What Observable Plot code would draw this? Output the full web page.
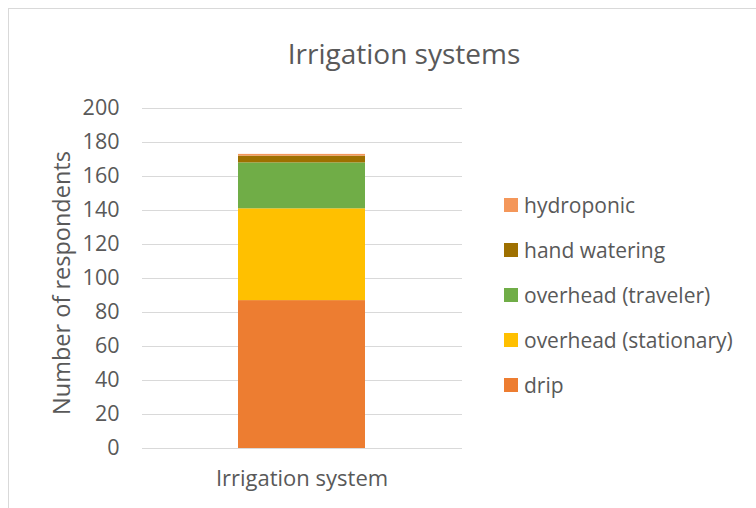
<!DOCTYPE html>
<html><head><meta charset="utf-8">
<script src="https://cdn.jsdelivr.net/npm/d3@7"></script>
<script src="https://cdn.jsdelivr.net/npm/@observablehq/plot@0.6"></script>
<style>
html,body{margin:0;padding:0;background:#fff;}
#wrap{position:relative;width:756px;height:508px;overflow:hidden;font-family:"Open Sans",sans-serif;}
#frame{position:absolute;left:8px;top:8px;width:900px;height:700px;border:1px solid #d9d9d9;box-sizing:border-box;pointer-events:none;}
#title{position:absolute;left:404px;top:53px;transform:translate(-50%,-50%);font-size:28px;color:#595959;white-space:nowrap;}
#ytitle{position:absolute;left:61px;top:283px;transform:translate(-50%,-50%) rotate(-90deg);font-size:23.5px;color:#595959;white-space:nowrap;}
#legend{position:absolute;left:504px;top:182.5px;font-size:21px;color:#595959;}
.li{display:flex;align-items:center;height:45px;}
.sw{width:14px;height:14px;margin-right:6px;}
#chart{position:absolute;left:0;top:0;}
</style></head>
<body><div id="wrap"><div id="chart"></div><div id="title"></div><div id="ytitle"></div><div id="legend"></div><div id="frame"></div></div>
<script>
const category = "Irrigation system";
const series = ["drip","overhead (stationary)","overhead (traveler)","hand watering","hydroponic"];
const values = [87, 54, 27, 4, 1];
const colors = ["#ed7d31","#ffc000","#70ad47","#9e7000","#f4975a"];
const yTicks = [0,20,40,60,80,100,120,140,160,180,200];

const data = series.map((s,i)=>({category, series:s, value:values[i]}));

const plot = Plot.plot({
  width: 756, height: 508,
  marginLeft: 142, marginRight: 294, marginTop: 108, marginBottom: 60,
  style:{fontFamily:"'Open Sans', sans-serif", fontSize:"21px", color:"#595959", background:"transparent", overflow:"visible"},
  x:{domain:[category], padding:0.43, label:null},
  y:{domain:[0,200], label:null},
  color:{domain:series, range:colors},
  marks:[
    Plot.gridY(yTicks,{stroke:"#d9d9d9", strokeOpacity:1, strokeWidth:1}),
    Plot.barY(data,{x:"category", y:"value", fill:"series", order:series}),
    Plot.axisY({ticks:yTicks, tickSize:0, tickPadding:23, fontSize:21.5, fill:"#595959", label:null}),
    Plot.axisX({tickSize:0, tickPadding:22, fontSize:22, fill:"#595959", label:null})
  ]
});
document.getElementById("chart").appendChild(plot);
document.getElementById("title").textContent = "Irrigation systems";
document.getElementById("ytitle").textContent = "Number of respondents";
const lg = document.getElementById("legend");
for (let i = series.length-1; i>=0; i--) {
  const d = document.createElement("div"); d.className="li";
  const sw = document.createElement("div"); sw.className="sw"; sw.style.background=colors[i];
  const t = document.createElement("span"); t.textContent = series[i];
  d.appendChild(sw); d.appendChild(t); lg.appendChild(d);
}
</script></body></html>
